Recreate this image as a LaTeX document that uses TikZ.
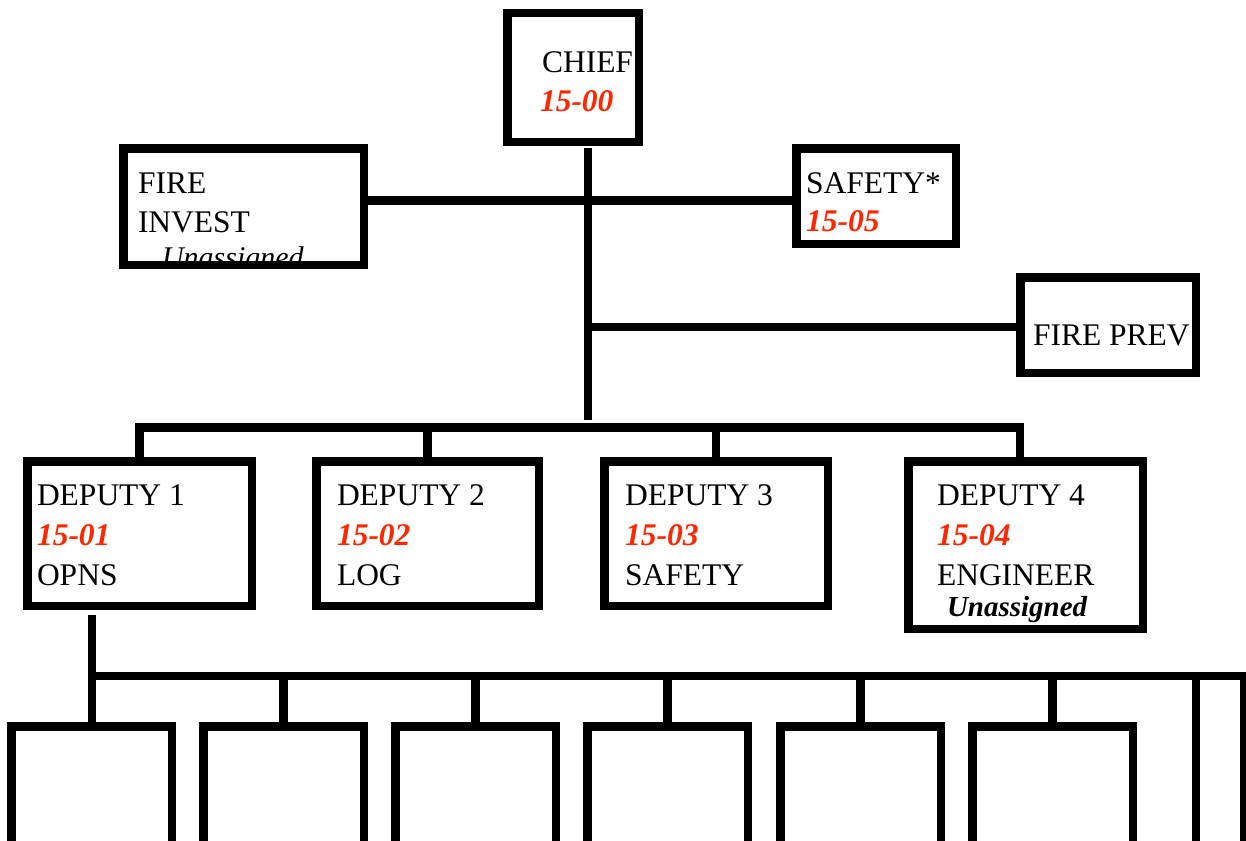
\documentclass[tikz,border=0pt]{standalone}
\usepackage{fontspec}
\setmainfont{Liberation Serif}
\definecolor{codered}{RGB}{255,38,0}
\begin{document}
\begin{tikzpicture}[x=1pt,y=-1pt,
  box/.style={draw, line width=8.5pt, inner sep=0pt, outer sep=0pt, rectangle},
  conn/.style={line width=8.5pt},
  lbl/.style={anchor=base west, inner sep=0pt, outer sep=0pt, font=\fontsize{31.5}{38}\selectfont},
  code/.style={anchor=base west, inner sep=0pt, outer sep=0pt, text=codered, font=\fontsize{31.5}{38}\selectfont\bfseries\itshape},
  note/.style={anchor=base west, inner sep=0pt, outer sep=0pt, font=\fontsize{29}{34}\selectfont\bfseries\itshape},
  notei/.style={anchor=base west, inner sep=0pt, outer sep=0pt, font=\fontsize{30}{34}\selectfont\itshape},
]
\path[use as bounding box] (0,0) rectangle (1246,840);
\fill[white] (0,0) rectangle (1246,840);
\clip (0,0) rectangle (1246,840);

% ---- boxes ----
\node[box, minimum width=131.5, minimum height=128.5] (chief) at (573,77.5) {};
\node[box, minimum width=240.5, minimum height=116.5] (finv) at (243.5,206.5) {};
\node[box, minimum width=159.5, minimum height=95.5] (safe) at (876,196) {};
\node[box, minimum width=175.5, minimum height=95.5] (fprev) at (1108,325) {};
\node[box, minimum width=224.5, minimum height=144.5] (d1) at (139.5,533.5) {};
\node[box, minimum width=222.5, minimum height=144.5] (d2) at (427.5,533.5) {};
\node[box, minimum width=223.5, minimum height=144.5] (d3) at (716,533.5) {};
\node[box, minimum width=234.5, minimum height=167.5] (d4) at (1025.5,545) {};
\foreach \i/\L in {1/7,2/199,3/391,4/583,5/776,6/968}{
  \node[box, minimum width=160.5, minimum height=139.5] (b\i) at (\L+84.5,796) {};
}

% ---- texts ----
\node[lbl] (tchief) at (542,73) {CHIEF};
\node[code] (cchief) at (540,112) {15-00};
\node[lbl] (tfinv1) at (138,193) {FIRE};
\node[lbl] (tfinv2) at (138,232) {INVEST};
\begin{scope}
  \clip (finv.north west) rectangle (finv.south east);
  \node[notei] (ufinv) at (162,267) {Unassigned};
\end{scope}
\node[lbl] (tsafe) at (806,193) {SAFETY*};
\node[code] (csafe) at (806,231) {15-05};
\node[lbl] (tfprev) at (1033,345) {FIRE PREV};
\node[lbl] (td1) at (37,505) {DEPUTY 1};
\node[code] (cd1) at (37,545) {15-01};
\node[lbl] (sd1) at (37,585) {OPNS};
\node[lbl] (td2) at (337,505) {DEPUTY 2};
\node[code] (cd2) at (337,545) {15-02};
\node[lbl] (sd2) at (337,585) {LOG};
\node[lbl] (td3) at (625,505) {DEPUTY 3};
\node[code] (cd3) at (625,545) {15-03};
\node[lbl] (sd3) at (625,585) {SAFETY};
\node[lbl] (td4) at (937,505) {DEPUTY 4};
\node[code] (cd4) at (937,545) {15-04};
\node[lbl] (sd4) at (937,585) {ENGINEER};
\node[note] (ud4) at (947,616) {Unassigned};

% ---- connectors ----
\coordinate (t0) at (588,148);
\coordinate (t1) at (588,420);
\draw[conn] (t0) -- (t1);
\draw[conn] ([yshift=6pt]finv.east) -- ([yshift=6pt]finv.east -| safe.west);
\draw[conn] (t1 |- fprev.west) ++(0,2) coordinate (fp0) -- (fp0 -| fprev.west);
\coordinate (bus4) at (1020,427.5);
\draw[conn, line join=miter] (d1.north) |- (bus4) -- (bus4 |- d4.north);
\draw[conn] (d2.north) -- (d2.north |- bus4);
\draw[conn] (d3.north) -- (d3.north |- bus4);
\coordinate (s0) at (92,615);
\coordinate (busb) at (1244,676);
\draw[conn, line join=miter] (s0) |- (busb) -- ++(0,200);
\draw[conn] (s0) -- (s0 |- b1.north);
\foreach \i in {2,...,6}{
  \draw[conn] (b\i.north) -- (b\i.north |- busb);
}
\draw[conn] (1196,676) -- (1196,860);
\end{tikzpicture}
\end{document}
